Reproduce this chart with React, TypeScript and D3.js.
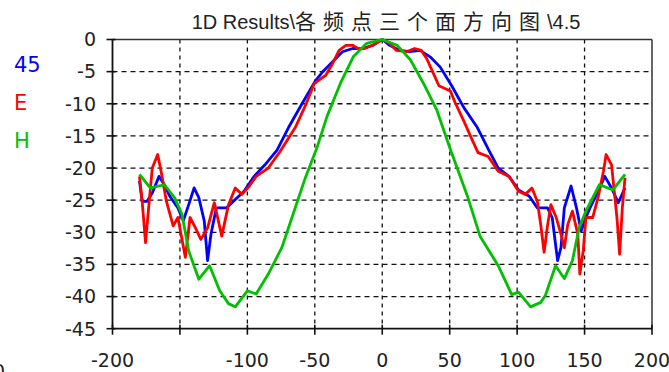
import React from "react";
import * as d3 from "d3";

// Pattern cuts at 4.5: angle (deg) vs normalised gain (dB)
const series45: [number, number][] = [
  [-180, -22], [-178, -25.2], [-174.5, -25.2], [-170.5, -23.9], [-165.5, -21.3], [-161.5, -22.6],
  [-157.5, -24.4], [-151.5, -26.2], [-147.5, -28.2], [-143.5, -25.7], [-139.5, -23.1], [-136, -24.6],
  [-132, -28.2], [-129.5, -34.4], [-127, -30.3], [-123, -26.2], [-115.5, -26.2], [-110.5, -25.2],
  [-102.5, -23.6], [-95, -21.3], [-87, -19.5], [-78, -17.2], [-69.5, -13.7], [-59.5, -10],
  [-49.5, -6.4], [-44.5, -5.1], [-37, -3.5], [-29.5, -1.9], [-22, -1.4], [-14.5, -1.4], [-7, -0.9],
  [0, 0], [5.5, -0.9], [13, -1.7], [20.5, -1.9], [28, -1.7], [35.5, -2.7], [43, -4.3], [51.5, -7.2],
  [60.5, -10.6], [70.5, -13.7], [79, -17.2], [86, -20], [94, -21.3], [101, -23.4], [109, -24.4],
  [115, -26.2], [122.5, -26.2], [126, -27.7], [130, -34.4], [132.5, -32.4], [135, -26.2], [140, -22.8],
  [144, -26.2], [147.5, -29.8], [150, -28.2], [154, -26.2], [159, -24.1], [165, -21.3], [170, -23.1],
  [175, -25.4], [180, -23.1],
];

const seriesE: [number, number][] = [
  [-180, -21.3], [-178, -25.2], [-175.5, -31.6], [-173, -25.7], [-170.5, -20], [-166.5, -17.9],
  [-164, -20.5], [-160, -25.2], [-155, -29], [-151.5, -27.7], [-146, -33.9], [-142.5, -27.7],
  [-138.5, -29.3], [-134.5, -31.1], [-129.5, -29.3], [-124.5, -25.4], [-119, -30.6], [-114, -25.7],
  [-109, -23.1], [-104, -24.1], [-98.5, -22.8], [-93.5, -21.3], [-84.5, -20], [-76, -17.5],
  [-64.5, -13.7], [-57, -10.3], [-50.5, -6.9], [-45.5, -6.1], [-42, -5.6], [-37, -3.8], [-32, -1.7],
  [-27, -0.9], [-22, -0.9], [-18, -1.4], [-13, -1.4], [-7, -0.9], [0, 0], [5.5, -0.6], [10.5, -1.7],
  [18, -1.9], [24, -1.4], [29, -1.7], [33, -3], [38, -5.3], [42, -7.2], [50.5, -8], [54, -9.8],
  [60.5, -12.7], [66, -15.3], [71, -17.6], [78.5, -18.2], [86, -20.5], [94, -21.3], [101, -23.6],
  [106, -24.1], [111, -23.1], [115, -25.2], [117.5, -28.8], [120, -33.1], [122.5, -29], [125, -25.7],
  [129, -27.7], [132.5, -30.3], [135, -32.4], [137.5, -28.8], [141, -26.7], [145, -30.3],
  [146.5, -36.5], [149, -32.9], [151, -27.7], [156, -27.7], [160, -24.6], [164, -20.5], [166, -17.9],
  [170, -19.5], [174, -27.7], [176, -33.4], [178, -26.2], [180, -21.5],
];

const seriesH: [number, number][] = [
  [-180, -21], [-172, -23.1], [-161.5, -22.6], [-154, -24.6], [-148.5, -27.2], [-143.5, -32.9],
  [-136, -37.3], [-128, -35.2], [-120.5, -39.1], [-114, -41.1], [-109, -41.6], [-100, -39.1],
  [-93.5, -39.6], [-84.5, -36.5], [-74.5, -32.4], [-65, -26.5], [-57, -21.5], [-48.5, -16.9],
  [-41, -12], [-31, -6.8], [-21.5, -2.7], [-11.5, -0.6], [0, 0], [11, -0.9], [21, -3.2],
  [30.5, -6.8], [40.5, -11], [50, -16.8], [63.5, -24.6], [72.5, -30.6], [86, -35.2], [96, -39.7],
  [101, -39.3], [110, -41.6], [117.5, -40.9], [121, -39.8], [128.5, -35.2], [135, -37.2],
  [141, -34.4], [146, -29.3], [151, -26.7], [161, -22.6], [171, -23.4], [180, -21],
];

const xTicks = [-200, -150, -100, -50, 0, 50, 100, 150, 200];
const xTickLabels = ["-200", "", "-100", "-50", "0", "50", "100", "150", "200"];
const yTicks = [0, -5, -10, -15, -20, -25, -30, -35, -40, -45];
const legendNames = ["45", "E", "H"];
const legendColors = ["#0000ff", "#ff0000", "#00c000"];

const W = 669;
const H = 372;
const left = 112.5;
const right = 652;
const top = 39.5;
const bottom = 328.7;

export default function App() {
  const x = d3.scaleLinear().domain([-200, 200]).range([left, right]);
  const y = d3.scaleLinear().domain([0, -45]).range([top, bottom]);
  const line = d3
    .line<[number, number]>()
    .x((d) => x(d[0]))
    .y((d) => y(d[1]));

  const all = [series45, seriesE, seriesH];
  const font = "'DejaVu Sans', sans-serif";

  return (
    <svg
      width={W}
      height={H}
      style={{ position: "absolute", left: 0, top: 0, background: "#fff" }}
    >
      <rect x={0} y={0} width={W} height={H} fill="#fff" />
      {/* title */}
      <text
        x={386}
        y={29}
        textAnchor="middle"
        fontFamily="'Liberation Sans', 'Noto Sans CJK SC', sans-serif"
        fontSize={20}
        fill="#222"
      >
        <tspan>1D Results\</tspan>
        <tspan fontFamily="'Noto Sans CJK SC', sans-serif" fontSize={21} letterSpacing={7}>
          各频点三个面方向图
        </tspan>
        <tspan>\4.5</tspan>
      </text>

      {/* dashed grid */}
      {xTicks.slice(1, -1).map((t) => (
        <line
          key={"gx" + t}
          x1={x(t)}
          x2={x(t)}
          y1={top}
          y2={bottom}
          stroke="#111"
          strokeWidth={1.3}
          strokeDasharray="4 4"
        />
      ))}
      {yTicks.slice(1, -1).map((t) => (
        <line
          key={"gy" + t}
          x1={left}
          x2={right}
          y1={y(t)}
          y2={y(t)}
          stroke="#111"
          strokeWidth={1.3}
          strokeDasharray="5 4"
        />
      ))}

      {/* frame */}
      <line x1={left} x2={right} y1={top} y2={top} stroke="#333" strokeWidth={1.5} />
      <line x1={right} x2={right} y1={top} y2={bottom} stroke="#333" strokeWidth={1.5} />
      <line x1={left} x2={left} y1={top} y2={bottom} stroke="#111" strokeWidth={1.8} />
      <line x1={left} x2={right} y1={bottom} y2={bottom} stroke="#111" strokeWidth={1.8} />

      {/* ticks */}
      {xTicks.map((t) => (
        <line key={"tx" + t} x1={x(t)} x2={x(t)} y1={bottom - 4} y2={bottom + 6} stroke="#111" strokeWidth={1.6} />
      ))}
      {yTicks.map((t) => (
        <line key={"ty" + t} x1={left - 6} x2={left + 3} y1={y(t)} y2={y(t)} stroke="#111" strokeWidth={1.6} />
      ))}

      {/* tick labels */}
      {xTicks.map((t, i) => (
        <text
          key={"lx" + t}
          x={x(t)}
          y={367}
          textAnchor="middle"
          fontFamily={font}
          fontSize={19}
          fill="#222"
        >
          {xTickLabels[i]}
        </text>
      ))}
      {yTicks.map((t) => (
        <text
          key={"ly" + t}
          x={96}
          y={y(t)}
          dy="0.36em"
          textAnchor="end"
          fontFamily={font}
          fontSize={19}
          fill="#222"
        >
          {t}
        </text>
      ))}

      {/* curves */}
      {all.map((s, i) => (
        <path
          key={"s" + i}
          d={line(s) || ""}
          fill="none"
          stroke={legendColors[i]}
          strokeWidth={2.8}
          strokeLinejoin="round"
        />
      ))}

      {/* legend */}
      {legendNames.map((n, i) => (
        <text
          key={"lg" + n}
          x={14}
          y={72 + i * 38}
          fontFamily={font}
          fontSize={21}
          fill={legendColors[i]}
        >
          {n}
        </text>
      ))}

      <text x={-7} y={378} fontFamily={font} fontSize={19} fill="#222">
        0
      </text>
    </svg>
  );
}
